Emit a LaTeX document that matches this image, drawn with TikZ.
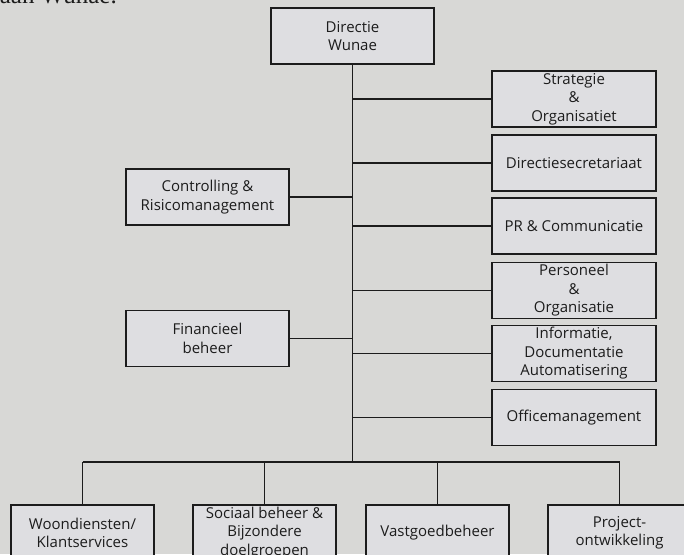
\documentclass[tikz,border=0pt]{standalone}
\usepackage{fontspec}
\setmainfont{Open Sans}
\newfontfamily\introfont{Liberation Serif}
\definecolor{bg}{RGB}{216,216,214}
\definecolor{boxfill}{RGB}{222,222,225}
\definecolor{ink}{RGB}{28,28,28}
\begin{document}
\begin{tikzpicture}[x=1pt,y=-1pt,
  box/.style={draw=ink, line width=1.6pt, fill=boxfill, text=ink,
    minimum height=56pt, inner sep=0pt, align=center,
    font=\fontsize{15}{18.5}\selectfont},
  rbox/.style={box, minimum width=164pt},
  lbox/.style={box, minimum width=163pt},
  bbox/.style={box, minimum width=143pt},
  link/.style={draw=ink, line width=1.3pt}]
\useasboundingbox (0,0) rectangle (684,554);
\fill[bg] (0,0) rectangle (684,554);
\clip (0,0) rectangle (684,554);
\node[anchor=base east, inner sep=0pt, text=ink,
  font=\introfont\fontsize{25}{30}\selectfont] (intro) at (117,3) {aan Wunae.};
% boxes
\node[box, minimum width=163pt] (dir) at (352.5,36) {Directie\\Wunae};
\node[rbox] (r1) at (574,99) {Strategie\\\&\\Organisatiet};
\node[rbox] (r2) at (574,163) {Directiesecretariaat};
\node[rbox] (r3) at (574,226) {PR \& Communicatie};
\node[rbox] (r4) at (574,290.5) {Personeel\\\&\\Organisatie};
\node[rbox] (r5) at (574,353.5) {Informatie,\\Documentatie\\Automatisering};
\node[rbox] (r6) at (574,417.5) {Officemanagement};
\node[lbox] (l1) at (207.5,197) {Controlling \&\\Risicomanagement};
\node[lbox] (l2) at (207.5,338.5) {Financieel\\beheer};
\node[bbox] (b1) at (82.5,533) {Woondiensten/\\Klantservices};
\node[bbox] (b2) at (264.5,533) {Sociaal beheer \&\\Bijzondere\\doelgroepen};
\node[bbox] (b3) at (437.5,533) {Vastgoedbeheer};
\node[bbox] (b4) at (619.5,533) {Project-\\ontwikkeling};
% trunk
\coordinate (bus) at (352,462);
\draw[link] (dir.south) -- (dir.south |- bus);
\foreach \n in {r1,r2,r3,r4,r5,r6}{
  \draw[link] (\n.west) -- (\n.west -| bus);
}
\foreach \n in {l1,l2}{
  \draw[link] (\n.east) -- (\n.east -| bus);
}
\draw[link] (b1.north |- bus) -- (b4.north |- bus);
\foreach \n in {b1,b2,b3,b4}{
  \draw[link] (\n.north) -- (\n.north |- bus);
}
\end{tikzpicture}
\end{document}
